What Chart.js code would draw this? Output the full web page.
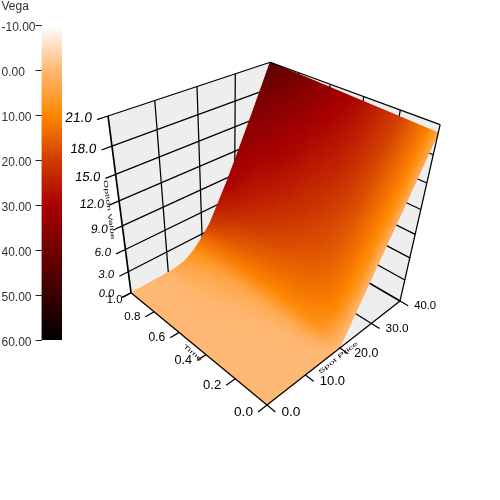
<!DOCTYPE html>
<html><head><meta charset="utf-8">
<script src="https://cdn.jsdelivr.net/npm/chart.js@4"></script>
<style>html,body{margin:0;padding:0;background:#fff}
canvas{position:absolute;left:0;top:0}</style></head>
<body>
<canvas id="main" width="500" height="500"></canvas>
<canvas id="bar" width="62" height="350"></canvas>
<script>
// ---- data ----
const spotValues = [0,5,10,12.5,15,17.5,20,22.5,25,27.5,30,32.5,35,37.5,40];
const timeValues = [0,0.05,0.1,0.2,0.3,0.4,0.6,0.8,1];
// option value, one row per time value
const optionValue = [
 [0,0,0,0,0,0,0.2,2.7,5.2,7.7,10.2,12.7,15.2,17.7,20.2],
 [0,0,0,0,0,0.01,0.7,2.85,5.22,7.7,10.2,12.7,15.2,17.72,20.24],
 [0,0,0,0,0,0.05,0.95,3.0,5.27,7.72,10.22,12.72,15.22,17.76,20.28],
 [0,0,0,0,0.02,0.2,1.25,3.2,5.35,7.76,10.26,12.76,15.28,17.84,20.36],
 [0,0,0,0,0.06,0.35,1.5,3.35,5.45,7.85,10.32,12.82,15.34,17.92,20.44],
 [0,0,0,0.02,0.12,0.5,1.7,3.5,5.55,7.95,10.38,12.88,15.42,18.0,20.52],
 [0,0,0,0.05,0.25,0.8,2.0,3.7,5.75,8.1,10.5,13.0,15.55,18.15,20.68],
 [0,0,0.01,0.08,0.4,1.05,2.25,3.85,6.0,8.25,10.65,13.15,15.68,18.28,20.84],
 [0,0,0.03,0.15,0.5,1.3,2.5,4.0,6.2,8.4,10.8,13.3,15.8,18.4,21.0]
];
// vega (colour value), one row per time value
const vegaValue = [
 [0,0,0,0,0,0,0,0.5,1,1.5,2,2.5,3,3.5,4],
 [0,0,0,0,0,0.3,3.5,6,7.5,8.5,9,9.5,10,10.5,11],
 [0,0,0,0,0.2,1.5,6.5,10,11,11.5,12,12.5,13,13.5,14],
 [0,0,0,0,0.4,2.2,9,12,14,15.5,16.5,17.5,18,19,20],
 [0,0,0,0.1,0.6,2.5,9.5,13,15.5,17.5,19,20.5,22,23,24],
 [0,0,0,0.3,1,3,10,13.5,16.5,19,21,23,25,26.5,28],
 [0,0,0.2,1,2,4,11,15,19,22,25,27,29,31.5,33.5],
 [0,0,0.5,2,3,6,12,17,22,25.5,28,31,33,36,39],
 [0,0,1,3,5.5,9,14,21,26,30,32,34,37,40,45]
];
const spotTicks = [0,10,20,30,40];
const timeTicks = [0,0.2,0.4,0.6,0.8,1];
const valueTicks = [0,3,6,9,12,15,18,21];
const vegaTicks = [-10,0,10,20,30,40,50,60];
const vegaStops = [-10,0,10,20,30,40,50,60];
const vegaColors = [[255,255,255],[255,184,115],[255,135,0],[208,60,0],[170,0,0],[113,0,0],[57,0,0],[0,0,0]];

// ---- view projection of the 3D box ----
const SPOT_MAX = 40, VALUE_MAX = 21;
const M = {ax:218.1,ay:-40,bx:-107,by:-47.5,cx:-53,cy:-242.6,dx:267,dy:405,g:0.2127,h:0.2213,i:-0.2309};
function den(s,t,z){return 1+M.g*s/SPOT_MAX+M.h*t+M.i*z/VALUE_MAX;}
function proj(s,t,z){
  const u=s/SPOT_MAX,w=z/VALUE_MAX,d=den(s,t,z);
  return {x:(M.ax*u+M.bx*t+M.cx*w+M.dx)/d,y:(M.ay*u+M.by*t+M.cy*w+M.dy)/d};
}
function vegaRGB(v){
  let k=0; while(k<vegaStops.length-2&&v>vegaStops[k+1])k++;
  const f=Math.max(0,Math.min(1,(v-vegaStops[k])/(vegaStops[k+1]-vegaStops[k])));
  const a=vegaColors[k],b=vegaColors[k+1];
  return `rgb(${a.map((c,i)=>Math.round(c+(b[i]-c)*f)).join(',')})`;
}
function shape(pts,color){
  return {data:[...pts,pts[0]],showLine:true,fill:'shape',backgroundColor:color,borderColor:color,borderWidth:1,pointRadius:0,tension:0};
}
function seg(a,b,width){
  return {data:[a,b],showLine:true,fill:false,borderColor:'#000',borderWidth:width||1.25,pointRadius:0,tension:0};
}
const WALL='#eeeeee', S1=SPOT_MAX, Z1=VALUE_MAX;
const paint=[];
// walls and floor
paint.push(shape([proj(0,1,0),proj(0,1,Z1),proj(S1,1,Z1),proj(S1,1,0)],WALL));
paint.push(shape([proj(S1,0,0),proj(S1,0,Z1),proj(S1,1,Z1),proj(S1,1,0)],WALL));
paint.push(shape([proj(0,0,0),proj(S1,0,0),proj(S1,1,0),proj(0,1,0)],WALL));
// grid lines
valueTicks.forEach(z=>{
  if(z>0&&z<Z1){paint.push(seg(proj(0,1,z),proj(S1,1,z)));paint.push(seg(proj(S1,1,z),proj(S1,0,z)));}
});
paint.push(seg(proj(S1,0,0),proj(S1,1,0),1.6));
spotTicks.forEach(s=>{if(s>0&&s<S1){paint.push(seg(proj(s,1,0),proj(s,1,Z1)));paint.push(seg(proj(s,0,0),proj(s,1,0)));}});
timeTicks.forEach(t=>{if(t>0&&t<1){paint.push(seg(proj(S1,t,0),proj(S1,t,Z1)));paint.push(seg(proj(0,t,0),proj(S1,t,0)));}});
// surface, far cells first; each read cell is shaded across its width
const ROW_STEPS=8;
const gradCtx=document.getElementById('main').getContext('2d');
function lerp2(tbl,i,j,a,b){
  return (1-a)*(1-b)*tbl[i][j]+(1-a)*b*tbl[i][j+1]+a*(1-b)*tbl[i+1][j]+a*b*tbl[i+1][j+1];
}
for(let i=timeValues.length-2;i>=0;i--){
  for(let ia=ROW_STEPS-1;ia>=0;ia--){
    for(let j=spotValues.length-2;j>=0;j--){
      const corner=(a,b)=>proj(
        spotValues[j]+(spotValues[j+1]-spotValues[j])*b,
        timeValues[i]+(timeValues[i+1]-timeValues[i])*a,
        lerp2(optionValue,i,j,a,b));
      const a0=ia/ROW_STEPS,a1=(ia+1)/ROW_STEPS,am=(a0+a1)/2;
      const p00=corner(a0,0),p01=corner(a0,1),p11=corner(a1,1),p10=corner(a1,0);
      const g0=corner(am,0),g1=corner(am,1);
      // colour runs along the spot direction; iso-lines follow the time direction
      const tx=p10.x-p00.x,ty=p10.y-p00.y,nx=-ty,ny=tx,nn=nx*nx+ny*ny;
      const L=nn>1e-6?((g1.x-g0.x)*nx+(g1.y-g0.y)*ny)/nn:0;
      const grad=gradCtx.createLinearGradient(g0.x,g0.y,g0.x+nx*L,g0.y+ny*L);
      grad.addColorStop(0,vegaRGB(lerp2(vegaValue,i,j,am,0)));
      grad.addColorStop(1,vegaRGB(lerp2(vegaValue,i,j,am,1)));
      paint.push(shape([p00,p01,p11,p10],grad));
    }
  }
}
// box edges
paint.push(seg(proj(0,1,0),proj(0,1,Z1),1.7));
paint.push(seg(proj(0,1,Z1),proj(S1,1,Z1)));
paint.push(seg(proj(S1,1,Z1),proj(S1,0,Z1)));
paint.push(seg(proj(S1,0,Z1),proj(S1,0,0)));
paint.push(seg(proj(0,0,0),proj(S1,0,0)));
paint.push(seg(proj(0,0,0),proj(0,1,0)));
// axis ticks
const TICK_S=0.05, TICK_U=-0.055*SPOT_MAX;
spotTicks.forEach(s=>paint.push(seg(proj(s,0,0),proj(s,-TICK_S,0))));
timeTicks.forEach(t=>paint.push(seg(proj(0,t,0),proj(TICK_U,t,0))));
valueTicks.forEach(z=>paint.push(seg(proj(0,1,z),proj(TICK_U,1,z))));

const FONT='"Liberation Sans", Arial, sans-serif';
const labelPlugin={id:'boxLabels',afterDatasetsDraw(chart){
  const c=chart.ctx,X=chart.scales.x,Y=chart.scales.y;
  const px=p=>({x:X.getPixelForValue(p.x),y:Y.getPixelForValue(p.y)});
  c.save();c.fillStyle='#000';c.textBaseline='middle';
  function text(str,p,align,dx,dy,size,skew){
    c.save();c.translate(p.x+dx,p.y+dy);
    if(skew)c.transform(1,0,-skew,1,0,0);
    c.textAlign=align;c.font=size.toFixed(1)+'px '+FONT;c.fillText(str,0,0);c.restore();
  }
  spotTicks.forEach(s=>text(s.toFixed(1),px(proj(s,-TICK_S,0)),'left',6,0,13.7/den(s,0,0)));
  timeTicks.forEach(t=>text(t.toFixed(1),px(proj(TICK_U,t,0)),'right',t===1?0:-5,t===1?3:0,13.7/den(0,t,0)));
  valueTicks.forEach(z=>text(z.toFixed(1),px(proj(TICK_U,1,z)),'right',z===0?-8:-5,z===0?-3:-1,13.7/den(0,1,z),0.12));
  function title(str,p,a,b){
    const q=px(p),r=px(a),e=px(b);
    c.save();c.translate(q.x,q.y);c.rotate(Math.atan2(e.y-r.y,e.x-r.x));c.scale(1,0.55);
    c.textAlign='center';c.font='10.5px '+FONT;c.fillText(str,0,0);c.restore();
  }
  title('Spot Price',proj(17.8,-0.035,0),proj(0,0,0),proj(S1,0,0));
  title('Time',proj(-1.6,0.45,0),proj(0,0,0),proj(0,-1,-0));
  title('Option Value',proj(-2.4,1,11.5),proj(0,1,Z1),proj(0,1,0));
  c.textAlign='left';c.fillStyle='#333';c.font='12px '+FONT;c.textBaseline='alphabetic';c.fillText('Vega',1.5,10);
  c.restore();
}};
new Chart(document.getElementById('main'),{
  type:'scatter',
  data:{datasets:paint.slice().reverse()},
  options:{responsive:false,animation:false,parsing:{xAxisKey:'x',yAxisKey:'y'},
    layout:{padding:0},
    events:[],
    plugins:{legend:{display:false},tooltip:{enabled:false}},
    scales:{x:{type:'linear',display:false,min:0,max:500},y:{type:'linear',display:false,min:0,max:500,reverse:true}}
  },
  plugins:[labelPlugin]
});
new Chart(document.getElementById('bar'),{
  type:'bar',
  data:{labels:['Vega'],datasets:[{data:[[vegaTicks[0],vegaTicks[vegaTicks.length-1]]],barPercentage:1,categoryPercentage:1,
    backgroundColor(ctx){
      const ch=ctx.chart;if(!ch.chartArea)return '#000';
      const Y=ch.scales.y,g=ch.ctx.createLinearGradient(0,Y.getPixelForValue(-10),0,Y.getPixelForValue(60));
      vegaStops.forEach((v,i)=>g.addColorStop((v+10)/70,'rgb('+vegaColors[i].join(',')+')'));
      return g;
    }}]},
  options:{responsive:false,animation:false,events:[],
    layout:{padding:{top:25.5,bottom:10,left:1.5,right:0}},
    plugins:{legend:{display:false},tooltip:{enabled:false}},
    scales:{
      x:{display:false},
      y:{position:'left',reverse:true,min:-10,max:60,
        afterFit(s){s.width=40;},
        border:{display:false},
        grid:{drawOnChartArea:false,drawTicks:true,tickLength:6,tickColor:'#222'},
        ticks:{stepSize:10,padding:0,crossAlign:'far',color:'#333',labelOffset:2.5,font:{family:'"Liberation Sans", Arial, sans-serif',size:12},
          callback:v=>v.toFixed(2)}
      }
    }
  }
});
</script>
</body></html>
